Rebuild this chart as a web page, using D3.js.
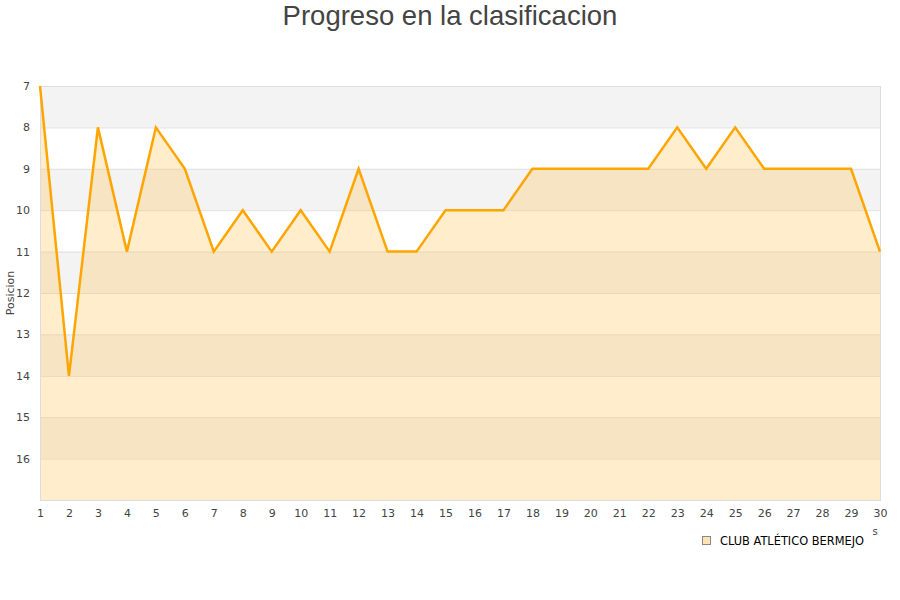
<!DOCTYPE html>
<html>
<head>
  <meta charset="UTF-8">
  <style>
    body { margin: 0; background: #fff; }
    svg { display: block; }
  </style>
</head>
<body>
<svg></svg>
<script src="https://d3js.org/d3.v7.min.js"></script>

<script>

let width = 900, height = 600;

// jornadas y posiciones
let rounds = d3.range(1, 31);
let positions = [7, 14, 8, 11, 8, 9, 11, 10, 11, 10, 11, 9, 11, 11, 10, 10, 10, 9, 9, 9, 9, 9, 8, 9, 8, 9, 9, 9, 9, 11];
let yTicks = [7, 8, 9, 10, 11, 12, 13, 14, 15, 16];
let teamName = "CLUB ATLÉTICO BERMEJO";

let margin = {top: 86, right: 20, bottom: 100, left: 40};

let svg = d3.select("svg")
    .attr("width", width)
    .attr("height", height);

let x = d3.scaleLinear()
    .domain([1, 30])
    .range([margin.left, width - margin.right]);

let y = d3.scaleLinear()
    .domain([7, 17])
    .range([margin.top, height - margin.bottom]);

// bandas alternas
svg.append("g")
    .selectAll("rect")
    .data(d3.range(7, 17))
    .enter()
    .append("rect")
    .attr("x", x(1))
    .attr("width", x(30) - x(1))
    .attr("y", d => y(d))
    .attr("height", d => y(d + 1) - y(d))
    .attr("fill", d => (d % 2 == 1) ? "#f3f3f3" : "#ffffff");

// grid
svg.append("g")
    .selectAll("line")
    .data(d3.range(8, 17))
    .enter()
    .append("line")
    .attr("x1", x(1))
    .attr("x2", x(30))
    .attr("y1", d => y(d) + 0.5)
    .attr("y2", d => y(d) + 0.5)
    .style("stroke", "#e0e0e0")
    .style("stroke-width", 1);

let data = rounds.map((r, i) => ({r: r, p: positions[i]}));

let area = d3.area()
    .x(d => x(d.r))
    .y0(y(17))
    .y1(d => y(d.p));

let line = d3.line()
    .x(d => x(d.r))
    .y(d => y(d.p));

svg.append("path")
    .datum(data)
    .attr("d", area)
    .attr("fill", "#ffc355")
    .attr("fill-opacity", 0.3);

// marco
svg.append("rect")
    .attr("x", x(1) + 0.5)
    .attr("y", y(7) + 0.5)
    .attr("width", x(30) - x(1))
    .attr("height", y(17) - y(7))
    .attr("fill", "none")
    .style("stroke", "#dddddd");

svg.append("path")
    .datum(data)
    .attr("d", line)
    .attr("fill", "none")
    .style("stroke", "#ffa500")
    .style("stroke-width", 2.5)
    .style("stroke-linejoin", "miter");

// ejes
let yAxis = d3.axisLeft(y)
    .tickValues(yTicks)
    .tickSize(0)
    .tickPadding(10);

let gy = svg.append("g")
    .attr("transform", "translate(" + margin.left + ",0)")
    .call(yAxis);
gy.select(".domain").remove();
gy.selectAll("text")
    .style("font-family", "DejaVu Sans")
    .style("font-size", "11px")
    .style("fill", "#444");

let xAxis = d3.axisBottom(x)
    .tickValues(rounds)
    .tickFormat(d3.format("d"))
    .tickSize(0)
    .tickPadding(9);

let gx = svg.append("g")
    .attr("transform", "translate(0," + y(17) + ")")
    .call(xAxis);
gx.select(".domain").remove();
gx.selectAll("text")
    .style("font-family", "DejaVu Sans")
    .style("font-size", "11px")
    .style("fill", "#444");

// titulos
svg.append("text")
    .attr("x", width / 2)
    .attr("y", 25)
    .attr("text-anchor", "middle")
    .style("font-family", "Liberation Sans, Arial")
    .style("font-size", "27.5px")
    .style("fill", "#444")
    .text("Progreso en la clasificacion");

svg.append("text")
    .attr("transform", "translate(14," + y(12) + ") rotate(-90)")
    .attr("text-anchor", "middle")
    .style("font-family", "DejaVu Sans")
    .style("font-size", "11px")
    .style("fill", "#444")
    .text("Posicion");

svg.append("text")
    .attr("x", 875)
    .attr("y", 535)
    .attr("text-anchor", "middle")
    .style("font-family", "DejaVu Sans")
    .style("font-size", "10px")
    .style("fill", "#444")
    .text("s");

// leyenda
let legend = svg.append("g")
    .attr("transform", "translate(702,536)");

legend.append("rect")
    .attr("x", 0.5)
    .attr("y", 0.5)
    .attr("width", 8)
    .attr("height", 8)
    .attr("fill", "#ffe4b3")
    .style("stroke", "#888")
    .style("stroke-width", 1);

legend.append("text")
    .attr("x", 18)
    .attr("y", 8.5)
    .style("font-family", "DejaVu Sans")
    .style("font-size", "11.4px")
    .style("fill", "#000")
    .text(teamName);

</script>

</body>
</html>
